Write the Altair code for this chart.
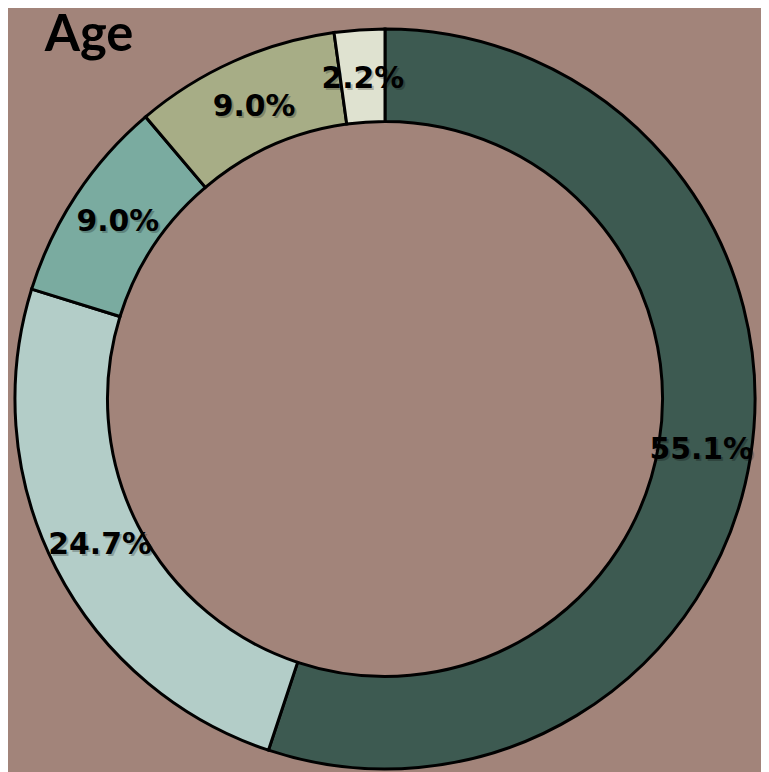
import altair as alt
import pandas as pd

segments = ["A", "B", "C", "D", "E"]
values = [55.1, 24.7, 9.0, 9.0, 2.2]
labels = ["55.1%", "24.7%", "9.0%", "9.0%", "2.2%"]
colors = ["#3d5a51", "#b3cdc8", "#7aaba0", "#a7ad86", "#dfe2d0"]

df = pd.DataFrame({"segment": segments, "value": values, "label": labels,
                   "order": list(range(len(values)))})

cx, cy = 379, 389

base = alt.Chart(df).encode(
    theta=alt.Theta("value:Q", stack=True),
    order=alt.Order("order:Q"),
    x=alt.value(cx), y=alt.value(cy),
)

arcs = base.mark_arc(outerRadius=372, innerRadius=279, stroke="black", strokeWidth=3).encode(
    color=alt.Color("segment:N", scale=alt.Scale(domain=segments, range=colors), legend=None)
)

shadow = base.mark_text(radius=322, font="DejaVu Sans", fontWeight="bold", fontSize=30,
                        dx=2, dy=2, color="#000000", opacity=0.22).encode(text="label:N")
texts = base.mark_text(radius=322, font="DejaVu Sans", fontWeight="bold", fontSize=30,
                       color="#000000").encode(text="label:N")

title = alt.Chart(pd.DataFrame({"t": ["Age"]})).mark_text(
    font="Lato", fontWeight="bold", fontSize=51, align="left", baseline="alphabetic",
    color="#000000"
).encode(text="t:N", x=alt.value(37), y=alt.value(39))

chart = alt.layer(arcs, shadow, texts, title).properties(
    width=753, height=756, padding=0, background="#a2847a"
).configure_view(stroke=None)

chart.save("out.html", embed_options={"renderer": "svg", "actions": False})
